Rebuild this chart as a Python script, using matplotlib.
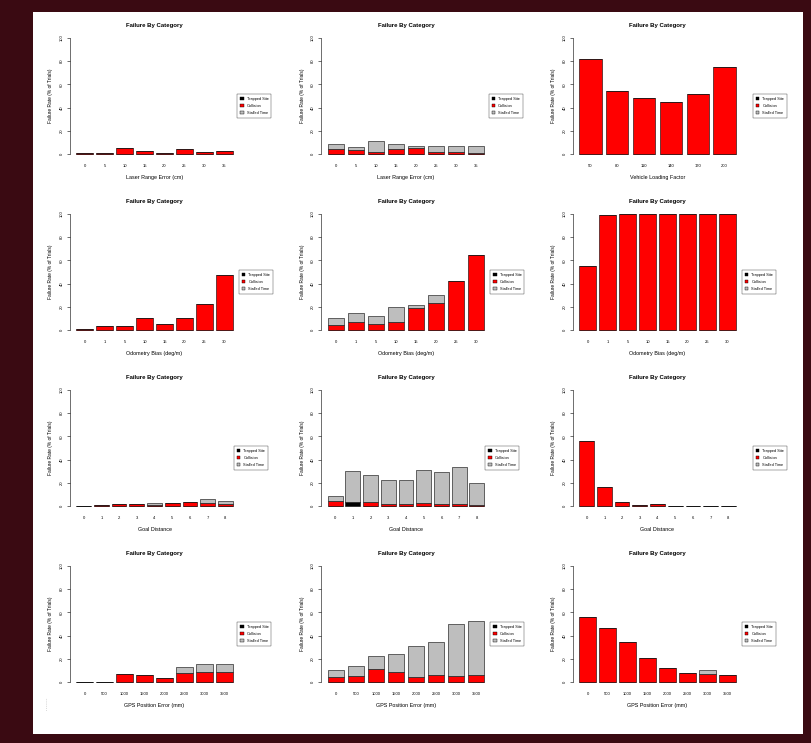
import numpy as np
import matplotlib
matplotlib.use('Agg')
import matplotlib.pyplot as plt
from matplotlib.patches import Rectangle

plt.rcParams['font.family'] = ['Liberation Sans', 'DejaVu Sans']

# failure categories (legend), stacked bottom -> top
categories = ['Trapped Site', 'Collision', 'Stalled Time']
cat_colors = ['black', '#ff0000', '#bebebe']

# x tick labels
ticks_range = ['0', '5', '10', '15', '20', '25', '30', '35']
ticks_load = ['50', '80', '110', '140', '170', '200']
ticks_odom = ['0', '1', '5', '10', '15', '20', '25', '30']
ticks_goal = ['0', '1', '2', '3', '4', '5', '6', '7', '8']
ticks_gps = ['0', '500', '1000', '1500', '2000', '2500', '3000', '3500']

# x axis labels
xlab_range = 'Laser Range Error (cm)'
xlab_load = 'Vehicle Loading Factor'
xlab_odom = 'Odometry Bias (deg/m)'
xlab_goal = 'Goal Distance'
xlab_gps = 'GPS Position Error (mm)'

# failure rates (% of trials), one list per category per panel
p1_black = [0, 0, 0, 0, 0, 0, 0, 0]
p1_red = [0.5, 0.5, 5, 3, 0.5, 4, 2, 2.5]
p1_grey = [0, 0, 0, 0, 0, 0, 0, 0]

p2_black = [0, 0, 0, 0, 0, 0, 0, 0]
p2_red = [4, 3.5, 2, 4, 5.5, 2, 2, 0.5]
p2_grey = [5, 2.8, 9, 5, 1.5, 5, 5, 6.5]

p3_black = [0, 0, 0, 0, 0, 0]
p3_red = [82, 54.5, 48, 45, 52, 75]
p3_grey = [0, 0, 0, 0, 0, 0]

p4_black = [0, 0, 0, 0, 0, 0, 0, 0]
p4_red = [0.5, 3.5, 3.5, 10.4, 5, 10.4, 22.3, 47]
p4_grey = [0, 0, 0, 0, 0, 0, 0, 0]

p5_black = [0, 0, 0, 0, 0, 0, 0, 0]
p5_red = [4.3, 6.7, 5.2, 7.2, 18.8, 23, 42, 65]
p5_grey = [5.7, 7.8, 6.8, 12.2, 2.9, 7.4, 0, 0]

p6_black = [0, 0, 0, 0, 0, 0, 0, 0]
p6_red = [55.3, 99, 100, 100, 100, 100, 100, 100]
p6_grey = [0, 0, 0, 0, 0, 0, 0, 0]

p7_black = [0, 0, 0, 0, 0, 0, 0, 0, 0]
p7_red = [0.3, 1.2, 2, 2, 1, 3, 3.5, 2.3, 1.7]
p7_grey = [0, 0, 0, 0, 2, 0, 0, 3.5, 2.3]

p8_black = [0, 3.5, 0, 0, 0, 0, 0, 0, 0]
p8_red = [4.3, 0, 3.5, 2, 2, 3, 2, 1.5, 0.5]
p8_grey = [4.4, 26.5, 23.5, 20.6, 20.6, 28.3, 27.6, 32.5, 19.2]

p9_black = [0, 0, 0, 0, 0, 0, 0, 0, 0]
p9_red = [55.7, 16.8, 3.8, 1.2, 2, 0.2, 0.2, 0.2, 0.2]
p9_grey = [0, 0, 0, 0, 0, 0, 0, 0, 0]

p10_black = [0, 0, 0, 0, 0, 0, 0, 0]
p10_red = [0.3, 0.3, 7.1, 5.7, 3.7, 8, 9, 8.6]
p10_grey = [0, 0, 0, 0, 0, 4.9, 6.7, 7.1]

p11_black = [0, 0, 0, 0, 0, 0, 0, 0]
p11_red = [4.3, 4.9, 11.1, 8.9, 4, 5.7, 5.1, 6.3]
p11_grey = [5.7, 9.1, 11.2, 15.1, 27, 28.9, 44.9, 46.7]

p12_black = [0, 0, 0, 0, 0, 0, 0, 0]
p12_red = [56.3, 46.3, 34.3, 20.6, 12.3, 7.7, 7, 5.7]
p12_grey = [0, 0, 0, 0, 0, 0, 3, 0]

yticks = [0, 20, 40, 60, 80, 100]

W, H = 812, 743


def draw_panel(fig, col, row, black, red, grey, ticklabels, xlab, leg_x):
	# pixel positions of the R style plot region
	ax_left = 70 + 251.5 * col
	zero_y = 154 + 176 * row
	ppu = 1.16
	ax_top = zero_y - 104 * ppu
	ax_h = 108 * ppu
	ax_w = 169
	ax = fig.add_axes([ax_left / W, 1 - (ax_top + ax_h) / H, ax_w / W, ax_h / H])
	ax.patch.set_alpha(0)

	n = len(red)
	x = 0.7 + 1.2 * np.arange(n)
	span = 1.2 * n - 0.2
	black = np.array(black)
	red = np.array(red)
	grey = np.array(grey)
	ax.bar(x, black, width=1, color=cat_colors[0], edgecolor='black', linewidth=0.4)
	ax.bar(x, red, width=1, bottom=black, color=cat_colors[1], edgecolor='black', linewidth=0.4)
	ax.bar(x, grey, width=1, bottom=black + red, color=cat_colors[2], edgecolor='black', linewidth=0.4)

	ax.set_xlim(0.2 - 0.04 * span, 1.2 * n + 0.04 * span)
	ax.set_ylim(-4, 104)
	for s in ['top', 'right', 'bottom']:
		ax.spines[s].set_visible(False)
	ax.spines['left'].set_bounds(0, 100)
	ax.spines['left'].set_linewidth(0.4)
	ax.set_yticks(yticks)
	ax.set_yticklabels([str(t) for t in yticks], rotation=90, va='center', fontsize=3.0)
	ax.tick_params(axis='y', length=2.2, width=0.4, pad=2.5)
	ax.set_xticks(x)
	ax.set_xticklabels(ticklabels, fontsize=3.0)
	ax.tick_params(axis='x', length=0, pad=4)
	ax.set_xlabel(xlab, fontsize=3.9, labelpad=5)
	ax.set_ylabel('Failure Rate (% of Trials)', fontsize=3.5, labelpad=4.5)
	ax.set_title('Failure By Category', fontsize=4.3, fontweight='bold', pad=4.5)

	handles = [Rectangle((0, 0), 1, 1, facecolor=c, edgecolor='black', linewidth=0.3) for c in cat_colors]
	leg = ax.legend(handles, categories, loc='center left', bbox_to_anchor=(leg_x, 0.42),
		fontsize=2.8, frameon=True, fancybox=False, handlelength=0.9, handleheight=0.9,
		borderpad=0.7, labelspacing=0.8, handletextpad=0.8, borderaxespad=0)
	leg.get_frame().set_edgecolor('black')
	leg.get_frame().set_linewidth(0.3)
	return ax


def main():
	fig = plt.figure(figsize=(W / 100, H / 100), dpi=100)
	fig.patch.set_facecolor('#3a0a12')
	# white page behind the plots
	page = fig.add_axes([33 / W, 1 - 734 / H, (803 - 33) / W, (734 - 12) / H], zorder=-10)
	page.set_facecolor('white')
	page.set_xticks([])
	page.set_yticks([])
	for s in page.spines.values():
		s.set_visible(False)
	# small page mark at bottom left
	fig.text(47 / W, 1 - 704 / H, '- - - - - - -', rotation=90, fontsize=2.2,
		color='#555555', ha='center', va='center')

	draw_panel(fig, 0, 0, p1_black, p1_red, p1_grey, ticks_range, xlab_range, 0.99)
	draw_panel(fig, 1, 0, p2_black, p2_red, p2_grey, ticks_range, xlab_range, 0.99)
	draw_panel(fig, 2, 0, p3_black, p3_red, p3_grey, ticks_load, xlab_load, 1.065)
	draw_panel(fig, 0, 1, p4_black, p4_red, p4_grey, ticks_odom, xlab_odom, 1.0)
	draw_panel(fig, 1, 1, p5_black, p5_red, p5_grey, ticks_odom, xlab_odom, 1.0)
	draw_panel(fig, 2, 1, p6_black, p6_red, p6_grey, ticks_odom, xlab_odom, 1.0)
	draw_panel(fig, 0, 2, p7_black, p7_red, p7_grey, ticks_goal, xlab_goal, 0.97)
	draw_panel(fig, 1, 2, p8_black, p8_red, p8_grey, ticks_goal, xlab_goal, 0.97)
	draw_panel(fig, 2, 2, p9_black, p9_red, p9_grey, ticks_goal, xlab_goal, 1.065)
	draw_panel(fig, 0, 3, p10_black, p10_red, p10_grey, ticks_gps, xlab_gps, 0.99)
	draw_panel(fig, 1, 3, p11_black, p11_red, p11_grey, ticks_gps, xlab_gps, 1.0)
	draw_panel(fig, 2, 3, p12_black, p12_red, p12_grey, ticks_gps, xlab_gps, 1.0)

	fig.savefig('out.png', dpi=100, facecolor=fig.get_facecolor())


main()
